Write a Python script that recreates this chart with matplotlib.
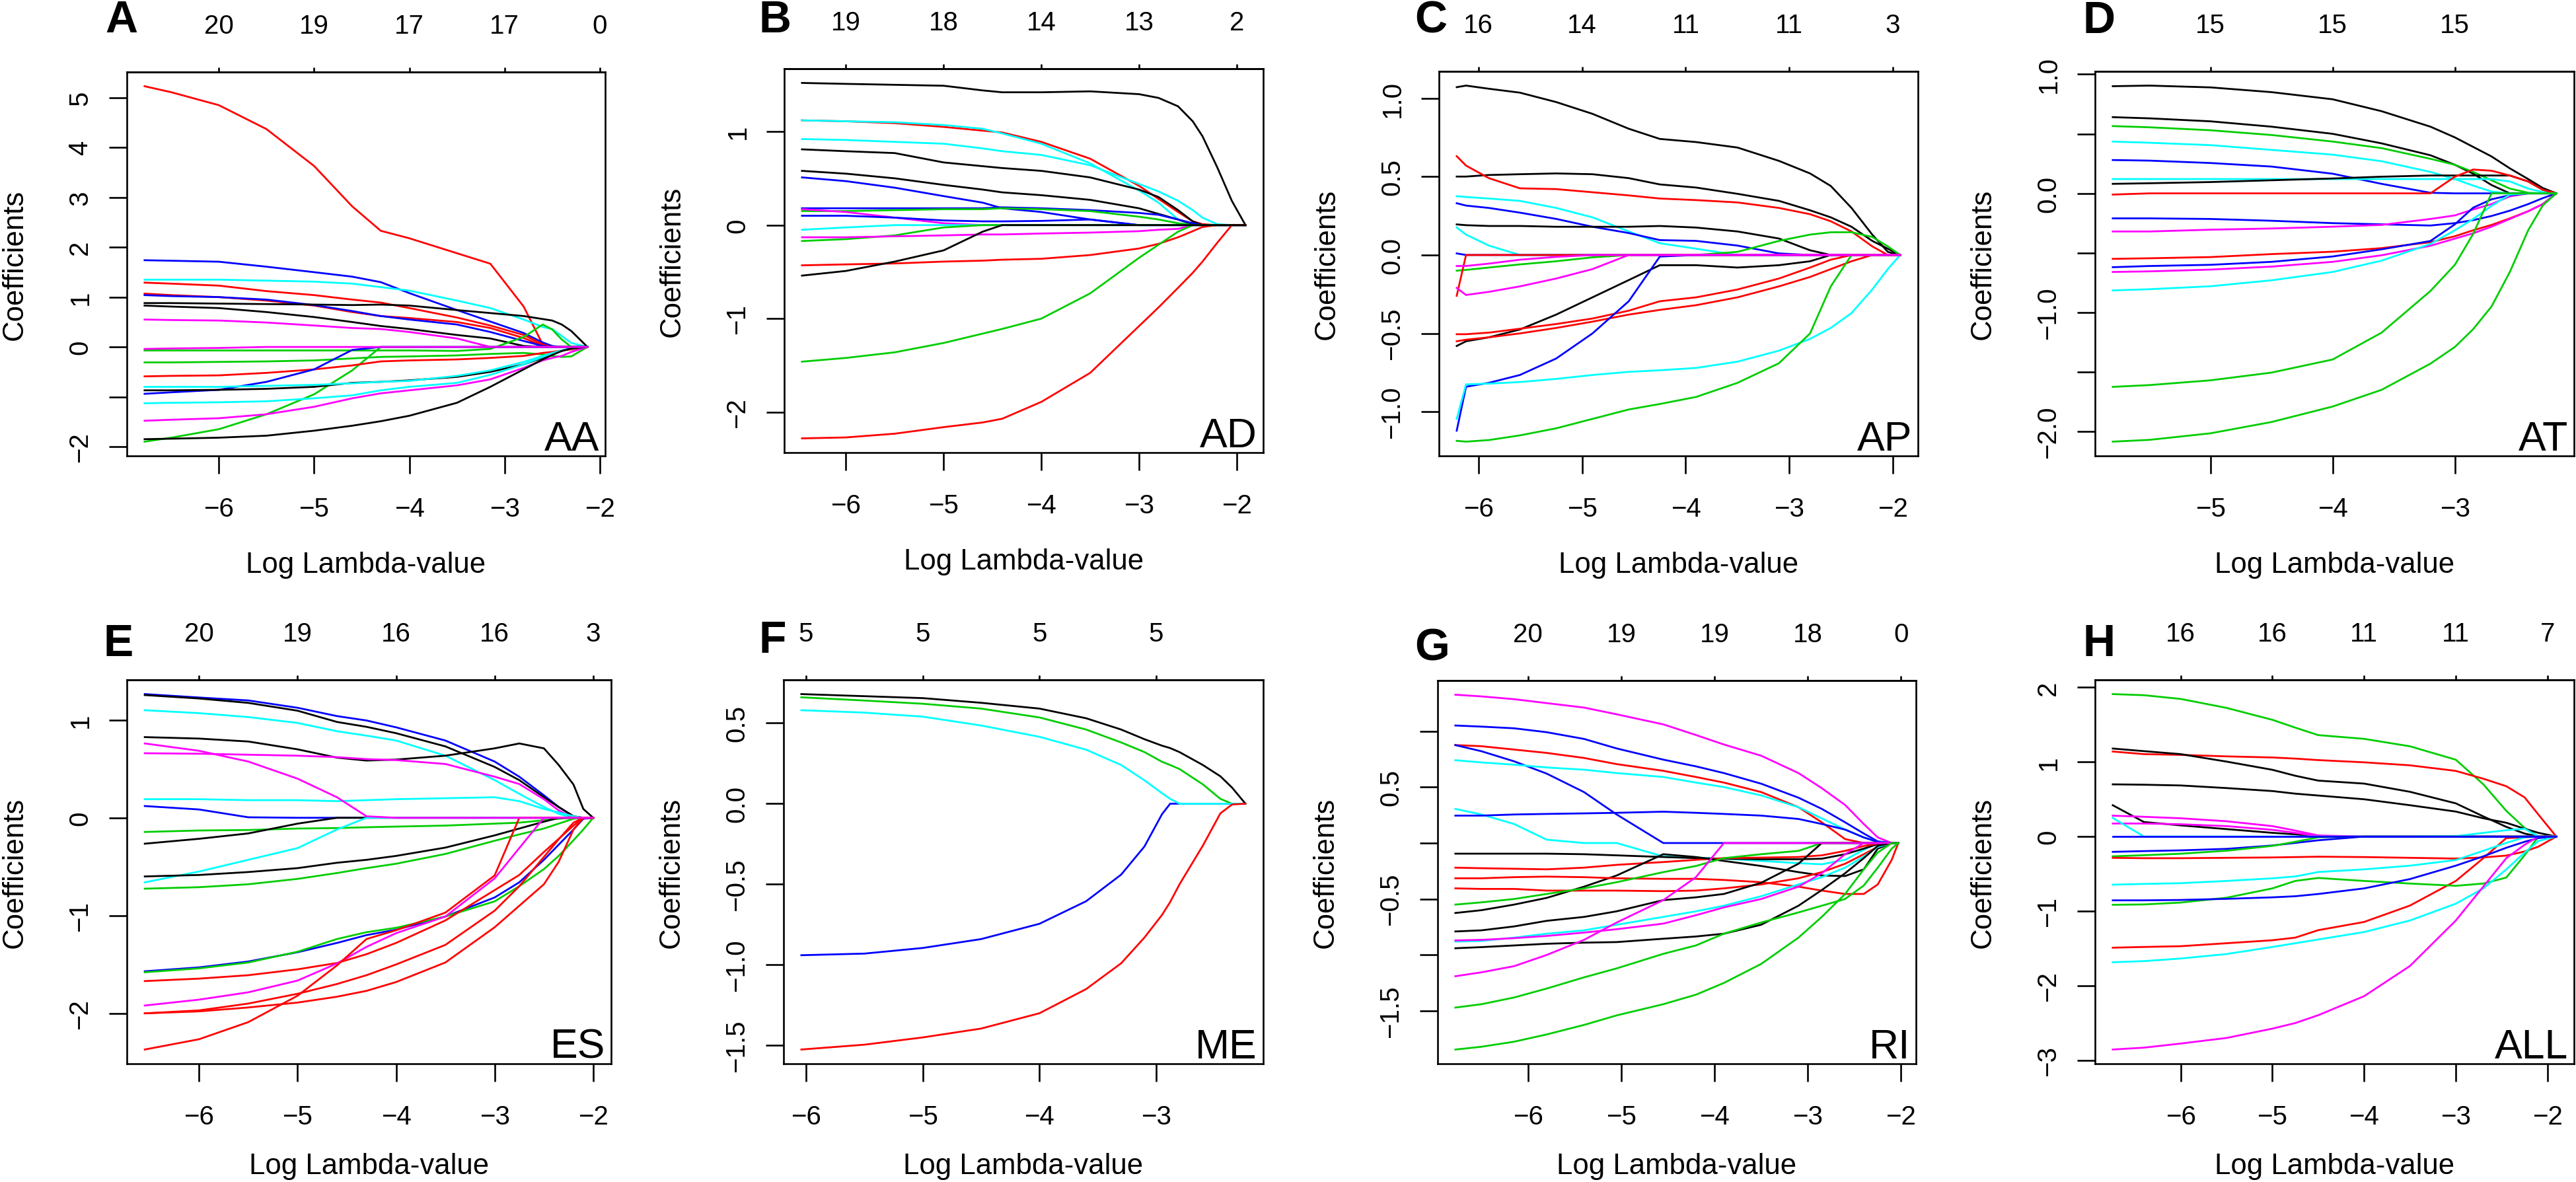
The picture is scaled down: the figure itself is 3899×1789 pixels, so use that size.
import numpy as np
import matplotlib
matplotlib.use("Agg")
import matplotlib.pyplot as plt

plt.rcParams['font.family'] = ['Liberation Sans', 'DejaVu Sans']

W, H = 3899, 1790
COL = {'k': '#000000', 'r': '#FF0000', 'g': '#00CD00',
       'b': '#0000FF', 'c': '#00FFFF', 'm': '#FF00FF'}

# ---------------- A : AA ----------------
A_x = [-6.78, -6.5, -6.0, -5.5, -5.0, -4.6, -4.3, -4.0, -3.5, -3.15, -2.8, -2.6, -2.5, -2.4, -2.3, -2.13]
A_coef = [
    [5.23, 5.11, 4.85, 4.37, 3.63, 2.82, 2.33, 2.18, 1.88, 1.67, 0.81, 0.05, 0, 0, 0, 0],
    [1.74, 1.73, 1.71, 1.61, 1.50, 1.41, 1.30, 1.08, 0.74, 0.51, 0.28, 0.09, 0.02, 0, 0, 0],
    [1.35, 1.35, 1.35, 1.33, 1.31, 1.27, 1.20, 1.13, 0.93, 0.78, 0.55, 0.40, 0.36, 0.22, 0.08, 0],
    [1.29, 1.27, 1.23, 1.12, 1.04, 0.95, 0.89, 0.78, 0.59, 0.43, 0.24, 0.05, 0, 0, 0, 0],
    [1.07, 1.04, 1.00, 0.93, 0.83, 0.70, 0.62, 0.58, 0.50, 0.38, 0.18, 0.02, 0, 0, 0, 0],
    [1.04, 1.02, 1.00, 0.95, 0.84, 0.72, 0.62, 0.55, 0.45, 0.30, 0.12, 0.02, 0, 0, 0, 0],
    [0.88, 0.88, 0.87, 0.86, 0.85, 0.84, 0.85, 0.83, 0.74, 0.68, 0.62, 0.56, 0.53, 0.45, 0.32, 0],
    [0.83, 0.81, 0.78, 0.70, 0.60, 0.50, 0.42, 0.36, 0.24, 0.17, 0.02, 0, 0, 0, 0, 0],
    [0.55, 0.54, 0.53, 0.49, 0.43, 0.38, 0.36, 0.30, 0.17, 0, 0, 0, 0, 0, 0, 0],
    [-0.07, -0.07, -0.07, -0.07, -0.07, -0.07, -0.07, -0.07, -0.08, -0.04, 0.20, 0.45, 0.35, 0.15, 0, 0],
    [-0.31, -0.31, -0.30, -0.29, -0.27, -0.23, -0.20, -0.19, -0.17, -0.14, -0.12, -0.15, -0.18, -0.20, -0.19, 0],
    [-1.90, -1.82, -1.65, -1.35, -0.95, -0.47, 0, 0, 0, 0, 0, 0, 0, 0, 0, 0],
    [-0.59, -0.58, -0.57, -0.52, -0.45, -0.37, -0.29, -0.27, -0.25, -0.22, -0.18, -0.12, -0.10, -0.07, -0.05, 0],
    [-0.94, -0.91, -0.86, -0.70, -0.45, -0.06, 0, 0, 0, 0, 0, 0, 0, 0, 0, 0],
    [-0.87, -0.87, -0.86, -0.84, -0.80, -0.72, -0.70, -0.67, -0.60, -0.50, -0.35, -0.22, -0.15, -0.08, -0.03, 0],
    [-0.80, -0.80, -0.80, -0.78, -0.76, -0.73, -0.70, -0.68, -0.58, -0.47, -0.30, -0.18, -0.12, -0.07, -0.03, 0],
    [-1.13, -1.12, -1.11, -1.09, -1.03, -0.97, -0.87, -0.80, -0.72, -0.56, -0.35, -0.20, -0.13, -0.07, -0.03, 0],
    [-1.48, -1.46, -1.43, -1.35, -1.20, -1.03, -0.93, -0.87, -0.77, -0.65, -0.42, -0.27, -0.22, -0.18, -0.10, 0],
    [-1.85, -1.84, -1.82, -1.78, -1.68, -1.58, -1.49, -1.38, -1.12, -0.80, -0.45, -0.25, -0.16, -0.08, -0.03, 0],
    [-0.04, -0.03, -0.02, 0, 0, 0, 0, 0, 0, 0, 0, 0, 0, 0, 0, 0],
]
A_col = "rbcrrbkkmgggrbkccmkm"
A_xt = [-6, -5, -4, -3, -2]
A_top = ['20', '19', '17', '17', '0']
A_yt = [-2, -1, 0, 1, 2, 3, 4, 5]
A_ylab = ['\u22122', '', '0', '1', '2', '3', '4', '5']

# ---------------- B : AD ----------------
B_x = [-6.45, -6.0, -5.5, -5.0, -4.6, -4.4, -4.0, -3.5, -3.0, -2.8, -2.6, -2.45, -2.35, -2.2, -2.05, -1.91]
B_coef = [
    [1.52, 1.51, 1.50, 1.49, 1.44, 1.42, 1.42, 1.43, 1.40, 1.36, 1.27, 1.11, 0.95, 0.62, 0.26, 0],
    [1.12, 1.11, 1.09, 1.05, 1.01, 0.99, 0.89, 0.71, 0.42, 0.28, 0.14, 0.04, 0.01, 0, 0, 0],
    [1.12, 1.11, 1.10, 1.07, 1.03, 0.98, 0.87, 0.66, 0.37, 0.24, 0.06, 0, 0, 0, 0, 0],
    [0.92, 0.91, 0.89, 0.87, 0.82, 0.79, 0.75, 0.64, 0.44, 0.36, 0.26, 0.16, 0.08, 0.01, 0, 0],
    [0.81, 0.79, 0.77, 0.67, 0.63, 0.61, 0.58, 0.51, 0.38, 0.30, 0.16, 0.04, 0, 0, 0, 0],
    [0.58, 0.55, 0.50, 0.43, 0.38, 0.35, 0.32, 0.27, 0.18, 0.12, 0.06, 0.01, 0, 0, 0, 0],
    [0.51, 0.47, 0.40, 0.31, 0.24, 0.18, 0.14, 0.06, 0, 0, 0, 0, 0, 0, 0, 0],
    [0.18, 0.18, 0.18, 0.18, 0.18, 0.19, 0.18, 0.16, 0.13, 0.11, 0.06, 0.02, 0, 0, 0, 0],
    [0.15, 0.15, 0.16, 0.17, 0.17, 0.18, 0.17, 0.15, 0.09, 0.06, 0.02, 0, 0, 0, 0, 0],
    [0.17, 0.14, 0.08, 0.02, 0, 0, 0, 0, 0, 0, 0, 0, 0, 0, 0, 0],
    [0.10, 0.10, 0.08, 0.05, 0.04, 0.04, 0.045, 0.06, 0, 0, 0, 0, 0, 0, 0, 0],
    [-0.05, -0.025, 0, 0, 0, 0, 0, 0, 0, 0, 0, 0, 0, 0, 0, 0],
    [-0.17, -0.15, -0.11, -0.025, 0, 0, 0, 0, 0, 0, 0, 0, 0, 0, 0, 0],
    [-0.13, -0.13, -0.12, -0.11, -0.10, -0.10, -0.09, -0.08, -0.065, -0.05, -0.04, 0, 0, 0, 0, 0],
    [-0.43, -0.42, -0.41, -0.39, -0.38, -0.37, -0.36, -0.32, -0.25, -0.20, -0.13, -0.065, -0.02, 0, 0, 0],
    [-1.46, -1.42, -1.36, -1.26, -1.16, -1.11, -1.00, -0.73, -0.35, -0.21, -0.07, 0, 0, 0, 0, 0],
    [-2.28, -2.27, -2.23, -2.16, -2.11, -2.07, -1.89, -1.58, -1.08, -0.88, -0.67, -0.51, -0.39, -0.19, 0, 0],
    [-0.54, -0.49, -0.39, -0.27, -0.07, 0, 0, 0, 0, 0, 0, 0, 0, 0, 0, 0],
]
B_col = "krcckkbbgmbcgmrgrk"
B_xt = [-6, -5, -4, -3, -2]
B_top = ['19', '18', '14', '13', '2']
B_yt = [-2, -1, 0, 1]
B_ylab = ['\u22122', '\u22121', '0', '1']

# ---------------- C : AP ----------------
C_x = [-6.21, -6.12, -5.9, -5.6, -5.25, -4.9, -4.55, -4.25, -3.9, -3.5, -3.1, -2.8, -2.6, -2.4, -2.2, -2.05, -1.93]
C_coef = [
    [1.07, 1.08, 1.06, 1.035, 0.975, 0.90, 0.805, 0.74, 0.72, 0.685, 0.60, 0.52, 0.44, 0.30, 0.13, 0.02, 0],
    [0.50, 0.50, 0.51, 0.515, 0.52, 0.515, 0.49, 0.45, 0.43, 0.39, 0.345, 0.285, 0.24, 0.18, 0.09, 0.04, 0],
    [0.63, 0.57, 0.49, 0.425, 0.42, 0.40, 0.38, 0.36, 0.35, 0.335, 0.30, 0.26, 0.215, 0.15, 0.055, 0, 0],
    [0.375, 0.37, 0.36, 0.345, 0.30, 0.24, 0.15, 0.075, 0.04, 0, 0, 0, 0, 0, 0, 0, 0],
    [0.33, 0.315, 0.30, 0.27, 0.23, 0.18, 0.14, 0.095, 0.09, 0.06, 0.01, 0, 0, 0, 0, 0, 0],
    [0.195, 0.19, 0.185, 0.185, 0.18, 0.18, 0.18, 0.185, 0.175, 0.15, 0.105, 0.03, 0, 0, 0, 0, 0],
    [0.175, 0.13, 0.06, 0, 0, 0, 0, 0, 0, 0, 0, 0, 0, 0, 0, 0, 0],
    [0.01, 0, 0, 0, 0, 0, 0, 0, 0, 0, 0, 0, 0, 0, 0, 0, 0],
    [-0.10, -0.095, -0.08, -0.06, -0.04, -0.015, 0, 0, 0, 0.02, 0.09, 0.13, 0.145, 0.145, 0.115, 0.055, 0],
    [-0.58, -0.55, -0.525, -0.475, -0.38, -0.27, -0.16, -0.065, -0.065, -0.08, -0.065, -0.04, 0, 0, 0, 0, 0],
    [-0.505, -0.505, -0.495, -0.47, -0.44, -0.405, -0.355, -0.295, -0.27, -0.22, -0.15, -0.08, -0.03, 0, 0, 0, 0],
    [-0.55, -0.54, -0.525, -0.50, -0.465, -0.425, -0.38, -0.35, -0.32, -0.27, -0.20, -0.14, -0.09, -0.04, 0, 0, 0],
    [-1.12, -0.84, -0.815, -0.765, -0.66, -0.50, -0.295, -0.01, 0, 0, 0, 0, 0, 0, 0, 0, 0],
    [-1.045, -0.825, -0.82, -0.81, -0.79, -0.765, -0.745, -0.735, -0.72, -0.68, -0.61, -0.535, -0.465, -0.37, -0.22, -0.09, 0],
    [-1.185, -1.19, -1.18, -1.15, -1.105, -1.045, -0.985, -0.95, -0.905, -0.815, -0.69, -0.50, -0.20, 0, 0, 0, 0],
    [-0.26, 0, 0, 0, 0, 0, 0, 0, 0, 0, 0, 0, 0, 0, 0, 0, 0],
    [-0.07, -0.07, -0.055, -0.03, -0.012, 0, 0, 0, 0, 0, 0, 0, 0, 0, 0, 0, 0],
    [-0.21, -0.255, -0.235, -0.20, -0.15, -0.09, 0, 0, 0, 0, 0, 0, 0, 0, 0, 0, 0],
]
C_col = "kkrcbkcbgkrrbcgrmm"
C_xt = [-6, -5, -4, -3, -2]
C_top = ['16', '14', '11', '11', '3']
C_yt = [-1.0, -0.5, 0.0, 0.5, 1.0]
C_ylab = ['\u22121.0', '\u22120.5', '0.0', '0.5', '1.0']

# ---------------- D : AT ----------------
D_x = [-5.8, -5.5, -5.0, -4.5, -4.0, -3.6, -3.2, -3.0, -2.85, -2.7, -2.55, -2.4, -2.28, -2.17]
D_coef = [
    [0.90, 0.905, 0.89, 0.85, 0.79, 0.69, 0.56, 0.47, 0.39, 0.31, 0.21, 0.12, 0.045, 0],
    [0.64, 0.63, 0.605, 0.56, 0.50, 0.42, 0.32, 0.24, 0.165, 0.07, 0, 0, 0, 0],
    [0.565, 0.555, 0.53, 0.49, 0.435, 0.38, 0.29, 0.24, 0.18, 0.11, 0.04, 0.005, 0, 0],
    [0.435, 0.425, 0.405, 0.365, 0.325, 0.27, 0.18, 0.12, 0.065, 0.015, 0, 0, 0, 0],
    [0.28, 0.275, 0.255, 0.225, 0.165, 0.08, 0.005, 0, 0, 0, 0, 0, 0, 0],
    [0.12, 0.12, 0.12, 0.12, 0.12, 0.12, 0.12, 0.12, 0.12, 0.12, 0.10, 0.04, 0.01, 0],
    [0.08, 0.085, 0.095, 0.11, 0.125, 0.14, 0.15, 0.15, 0.15, 0.15, 0.15, 0.10, 0.03, 0],
    [-0.01, 0, 0, 0, 0, 0, 0, 0.14, 0.20, 0.19, 0.15, 0.10, 0.03, 0],
    [-0.21, -0.21, -0.215, -0.23, -0.25, -0.26, -0.27, -0.25, -0.225, -0.19, -0.145, -0.09, -0.04, 0],
    [-0.32, -0.32, -0.305, -0.295, -0.28, -0.265, -0.215, -0.185, -0.135, -0.09, -0.025, 0, 0, 0],
    [-0.55, -0.545, -0.535, -0.51, -0.49, -0.46, -0.41, -0.36, -0.31, -0.265, -0.21, -0.15, -0.09, 0],
    [-0.62, -0.61, -0.60, -0.575, -0.53, -0.47, -0.40, -0.26, -0.12, -0.05, -0.015, 0, 0, 0],
    [-0.66, -0.655, -0.64, -0.615, -0.575, -0.52, -0.44, -0.38, -0.335, -0.28, -0.215, -0.15, -0.09, 0],
    [-0.815, -0.805, -0.78, -0.73, -0.66, -0.565, -0.425, -0.31, -0.215, -0.105, -0.01, 0, 0, 0],
    [-1.625, -1.61, -1.57, -1.505, -1.395, -1.17, -0.82, -0.60, -0.34, 0, 0, 0, 0, 0],
    [-2.085, -2.07, -2.015, -1.92, -1.79, -1.65, -1.43, -1.29, -1.14, -0.95, -0.66, -0.31, -0.10, 0],
]
D_col = "kkgcbckrbmrbmcgg"
D_xt = [-5, -4, -3]
D_top = ['15', '15', '15']
D_yt = [-2.0, -1.5, -1.0, -0.5, 0.0, 0.5, 1.0]
D_ylab = ['\u22122.0', '', '\u22121.0', '', '0.0', '', '1.0']

# ---------------- E : ES ----------------
E_x = [-6.55, -6.0, -5.5, -5.0, -4.6, -4.3, -4.0, -3.5, -3.0, -2.75, -2.5, -2.35, -2.2, -2.1, -2.0]
E_coef = [
    [1.265, 1.23, 1.20, 1.125, 1.04, 0.995, 0.925, 0.79, 0.575, 0.42, 0.23, 0.11, 0.015, 0, 0],
    [1.255, 1.22, 1.175, 1.095, 0.98, 0.93, 0.865, 0.73, 0.52, 0.385, 0.21, 0.11, 0.015, 0, 0],
    [1.10, 1.07, 1.03, 0.97, 0.885, 0.84, 0.79, 0.635, 0.385, 0.245, 0.11, 0.04, 0, 0, 0],
    [0.825, 0.81, 0.78, 0.70, 0.615, 0.585, 0.595, 0.635, 0.71, 0.76, 0.71, 0.54, 0.34, 0.09, 0],
    [0.66, 0.655, 0.645, 0.635, 0.62, 0.60, 0.59, 0.55, 0.42, 0.345, 0.19, 0.075, 0, 0, 0],
    [0.19, 0.19, 0.18, 0.18, 0.17, 0.18, 0.19, 0.20, 0.21, 0.17, 0.09, 0.055, 0.015, 0, 0],
    [0.12, 0.085, 0.005, 0, 0, 0, 0, 0, 0, 0, 0, 0, 0, 0, 0],
    [-0.145, -0.13, -0.125, -0.11, -0.105, -0.097, -0.09, -0.08, -0.06, -0.05, -0.025, -0.01, 0, 0, 0],
    [-0.265, -0.215, -0.16, -0.06, 0, 0, 0, 0, 0, 0, 0, 0, 0, 0, 0],
    [-0.66, -0.55, -0.43, -0.31, -0.12, 0, 0, 0, 0, 0, 0, 0, 0, 0, 0],
    [-0.60, -0.585, -0.555, -0.515, -0.46, -0.43, -0.39, -0.305, -0.18, -0.11, -0.04, 0, 0, 0, 0],
    [-0.725, -0.71, -0.68, -0.625, -0.565, -0.515, -0.47, -0.37, -0.235, -0.17, -0.11, -0.06, -0.01, 0, 0],
    [-1.57, -1.53, -1.47, -1.375, -1.28, -1.20, -1.145, -1.01, -0.815, -0.66, -0.43, -0.275, -0.12, -0.01, 0],
    [-1.58, -1.54, -1.48, -1.37, -1.24, -1.17, -1.125, -1.01, -0.855, -0.70, -0.525, -0.39, -0.23, -0.12, 0],
    [-1.67, -1.645, -1.61, -1.55, -1.485, -1.395, -1.28, -1.05, -0.74, -0.585, -0.35, -0.215, -0.08, 0, 0],
    [-1.92, -1.86, -1.785, -1.665, -1.49, -1.32, -1.18, -1.01, -0.62, -0.31, 0, 0, 0, 0, 0],
    [-2.0, -1.97, -1.90, -1.80, -1.70, -1.61, -1.50, -1.30, -0.95, -0.70, -0.40, -0.22, -0.05, 0, 0],
    [-2.0, -1.98, -1.94, -1.89, -1.83, -1.77, -1.68, -1.48, -1.12, -0.90, -0.68, -0.45, -0.12, 0, 0],
    [-2.37, -2.265, -2.09, -1.82, -1.51, -1.24, -1.15, -0.97, -0.59, 0, 0, 0, 0, 0, 0],
    [0.76, 0.685, 0.575, 0.40, 0.21, 0.015, 0, 0, 0, 0, 0, 0, 0, 0, 0],
]
E_col = "bkckmcbgkckgbgrmrrrm"
E_xt = [-6, -5, -4, -3, -2]
E_top = ['20', '19', '16', '16', '3']
E_yt = [-2, -1, 0, 1]
E_ylab = ['\u22122', '\u22121', '0', '1']

# ---------------- F : ME ----------------
F_x = [-6.04, -5.5, -5.0, -4.5, -4.0, -3.6, -3.3, -3.1, -2.95, -2.88, -2.8, -2.6, -2.45, -2.35, -2.235]
F_coef = [
    [0.68, 0.667, 0.655, 0.626, 0.59, 0.53, 0.46, 0.40, 0.36, 0.345, 0.32, 0.24, 0.17, 0.10, 0],
    [0.66, 0.64, 0.62, 0.59, 0.535, 0.46, 0.38, 0.32, 0.26, 0.24, 0.215, 0.12, 0.03, 0, 0],
    [-0.94, -0.93, -0.895, -0.84, -0.745, -0.605, -0.44, -0.265, -0.065, 0, 0, 0, 0, 0, 0],
    [0.58, 0.565, 0.54, 0.485, 0.415, 0.335, 0.24, 0.145, 0.065, 0.03, 0, 0, 0, 0, 0],
    [-1.525, -1.495, -1.45, -1.395, -1.30, -1.15, -0.99, -0.83, -0.69, -0.61, -0.50, -0.26, -0.06, -0.005, 0],
]
F_col = "kgbcr"
F_xt = [-6, -5, -4, -3]
F_top = ['5', '5', '5', '5']
F_yt = [-1.5, -1.0, -0.5, 0.0, 0.5]
F_ylab = ['\u22121.5', '\u22121.0', '\u22120.5', '0.0', '0.5']

# ---------------- G : RI ----------------
G_x = [-6.78, -6.5, -6.15, -5.8, -5.4, -5.05, -4.55, -4.2, -3.9, -3.5, -3.1, -2.85, -2.6, -2.4, -2.25, -2.1, -2.03]
G_coef = [
    [1.325, 1.31, 1.285, 1.25, 1.21, 1.15, 1.06, 0.965, 0.88, 0.78, 0.625, 0.49, 0.34, 0.17, 0.05, 0, 0],
    [1.05, 1.04, 1.025, 0.99, 0.93, 0.845, 0.745, 0.685, 0.625, 0.53, 0.405, 0.305, 0.185, 0.085, 0.015, 0, 0],
    [0.875, 0.865, 0.835, 0.805, 0.76, 0.705, 0.645, 0.59, 0.54, 0.455, 0.32, 0.185, 0.035, 0, 0, 0, 0],
    [0.875, 0.82, 0.73, 0.62, 0.455, 0.255, 0, 0, 0, 0, 0, 0, 0, 0, 0, 0, 0],
    [0.74, 0.72, 0.70, 0.675, 0.655, 0.625, 0.59, 0.54, 0.50, 0.425, 0.32, 0.22, 0.12, 0.05, 0.01, 0, 0],
    [0.305, 0.255, 0.17, 0.03, 0, 0, -0.12, -0.13, -0.14, -0.16, -0.18, -0.19, -0.15, -0.06, 0, 0, 0],
    [0.245, 0.245, 0.255, 0.26, 0.265, 0.27, 0.28, 0.27, 0.26, 0.245, 0.215, 0.17, 0.12, 0.05, 0.01, 0, 0],
    [-0.095, -0.095, -0.095, -0.095, -0.10, -0.11, -0.125, -0.135, -0.14, -0.145, -0.145, -0.14, -0.10, -0.05, -0.01, 0, 0],
    [-0.22, -0.225, -0.23, -0.235, -0.22, -0.195, -0.17, -0.15, -0.135, -0.13, -0.125, -0.11, -0.07, -0.027, -0.005, 0, 0],
    [-0.625, -0.60, -0.55, -0.49, -0.39, -0.29, -0.10, -0.125, -0.16, -0.205, -0.26, -0.29, -0.295, -0.235, -0.05, 0, 0],
    [-0.315, -0.315, -0.305, -0.30, -0.305, -0.315, -0.32, -0.32, -0.33, -0.35, -0.39, -0.425, -0.455, -0.455, -0.37, -0.15, 0],
    [-0.405, -0.41, -0.41, -0.425, -0.425, -0.425, -0.43, -0.425, -0.405, -0.37, -0.315, -0.26, -0.185, -0.10, -0.035, 0, 0],
    [-0.55, -0.53, -0.50, -0.455, -0.405, -0.35, -0.26, -0.205, -0.135, -0.10, -0.07, 0, 0, 0, 0, 0, 0],
    [-0.79, -0.78, -0.745, -0.695, -0.66, -0.61, -0.51, -0.485, -0.455, -0.355, -0.185, 0, 0, 0, 0, 0, 0],
    [-0.88, -0.875, -0.845, -0.81, -0.78, -0.73, -0.66, -0.61, -0.56, -0.475, -0.37, -0.305, -0.22, -0.12, -0.035, 0, 0],
    [-0.87, -0.865, -0.85, -0.83, -0.80, -0.77, -0.72, -0.645, -0.575, -0.50, -0.39, -0.27, -0.10, 0, 0, 0, 0],
    [-0.94, -0.93, -0.915, -0.90, -0.89, -0.885, -0.855, -0.835, -0.81, -0.73, -0.56, -0.42, -0.27, -0.135, -0.025, 0, 0],
    [-1.19, -1.155, -1.10, -1.0, -0.865, -0.71, -0.51, -0.305, 0, 0, 0, 0, 0, 0, 0, 0, 0],
    [-1.47, -1.44, -1.38, -1.30, -1.20, -1.12, -0.99, -0.915, -0.81, -0.71, -0.62, -0.56, -0.50, -0.38, -0.22, -0.05, 0],
    [-1.845, -1.82, -1.775, -1.71, -1.625, -1.54, -1.44, -1.355, -1.25, -1.08, -0.845, -0.66, -0.455, -0.235, -0.085, 0, 0],
]
G_col = "mbrbccbkrkrrgkcmkmgg"
G_xt = [-6, -5, -4, -3, -2]
G_top = ['20', '19', '19', '18', '0']
G_yt = [-1.5, -1.0, -0.5, 0.0, 0.5, 1.0]
G_ylab = ['\u22121.5', '', '\u22120.5', '', '0.5', '']

# ---------------- H : ALL ----------------
H_x = [-6.74, -6.4, -6.0, -5.5, -5.0, -4.75, -4.5, -4.0, -3.5, -3.0, -2.7, -2.45, -2.25, -2.1, -1.905]
H_coef = [
    [1.91, 1.895, 1.845, 1.725, 1.565, 1.46, 1.36, 1.31, 1.21, 1.03, 0.70, 0.345, 0.115, 0, 0],
    [1.14, 1.105, 1.095, 1.075, 1.06, 1.045, 1.025, 0.995, 0.955, 0.88, 0.775, 0.675, 0.525, 0.295, 0],
    [1.18, 1.145, 1.105, 1.005, 0.895, 0.815, 0.75, 0.71, 0.60, 0.445, 0.27, 0.13, 0.04, 0, 0],
    [0.70, 0.695, 0.685, 0.65, 0.61, 0.575, 0.55, 0.50, 0.42, 0.335, 0.245, 0.185, 0.105, 0.05, 0],
    [0.42, 0.195, 0.15, 0.10, 0.05, 0.03, 0, 0, 0, 0, 0, 0, 0, 0, 0],
    [0.28, 0.265, 0.245, 0.205, 0.14, 0.08, 0.015, 0, 0, 0, 0, 0, 0, 0, 0],
    [0.175, 0.175, 0.165, 0.14, 0.09, 0.05, 0.005, 0, 0, 0, 0, 0, 0, 0, 0],
    [0.25, 0, 0, 0, 0, 0, 0, 0, 0, 0.005, 0.05, 0.085, 0.105, 0, 0],
    [-0.205, -0.195, -0.185, -0.165, -0.12, -0.085, -0.05, 0, 0, 0, 0, 0, 0, 0, 0],
    [-0.265, -0.25, -0.23, -0.19, -0.125, -0.07, -0.01, 0, 0, 0, 0, 0, 0, 0, 0],
    [-0.285, -0.29, -0.29, -0.285, -0.28, -0.275, -0.27, -0.275, -0.285, -0.295, -0.28, -0.255, -0.2, -0.135, 0],
    [-1.49, -1.48, -1.47, -1.43, -1.39, -1.355, -1.255, -1.145, -0.925, -0.595, -0.29, -0.02, -0.01, 0, 0],
    [-0.645, -0.635, -0.625, -0.595, -0.56, -0.535, -0.475, -0.44, -0.39, -0.315, -0.19, -0.085, -0.01, 0, 0],
    [-0.915, -0.91, -0.885, -0.82, -0.695, -0.595, -0.555, -0.595, -0.63, -0.66, -0.63, -0.55, -0.25, 0, 0],
    [-0.855, -0.855, -0.85, -0.835, -0.815, -0.80, -0.77, -0.695, -0.57, -0.39, -0.265, -0.15, -0.07, -0.02, 0],
    [-1.685, -1.67, -1.635, -1.575, -1.48, -1.43, -1.38, -1.28, -1.125, -0.90, -0.695, -0.44, -0.215, -0.06, 0],
    [-2.855, -2.83, -2.775, -2.70, -2.575, -2.50, -2.395, -2.14, -1.735, -1.125, -0.67, -0.29, -0.11, 0, 0],
    [0, 0, 0, 0, 0, 0, 0, 0, 0, 0, 0, 0, 0, 0, 0],
]
H_col = "grkkkmmcbgrrcgbcmb"
H_xt = [-6, -5, -4, -3, -2]
H_top = ['16', '16', '11', '11', '7']
H_yt = [-3, -2, -1, 0, 1, 2]
H_ylab = ['\u22123', '\u22122', '\u22121', '0', '1', '2']

# layout in pixels: box (left, top, right, bottom), panel letter (x, baseline)
panels = [
    ('A', 'AA', A_x, A_coef, A_col, A_xt, A_top, A_yt, A_ylab, (192, 110, 916, 691), (184, 49), 0),
    ('B', 'AD', B_x, B_coef, B_col, B_xt, B_top, B_yt, B_ylab, (1187, 105, 1912, 686), (1173, 49), 0),
    ('C', 'AP', C_x, C_coef, C_col, C_xt, C_top, C_yt, C_ylab, (2178, 109, 2903, 691), (2166, 50), 0),
    ('D', 'AT', D_x, D_coef, D_col, D_xt, D_top, D_yt, D_ylab, (3171, 109, 3896, 691), (3177, 50), 0),
    ('E', 'ES', E_x, E_coef, E_col, E_xt, E_top, E_yt, E_ylab, (192, 1030, 925, 1611), (179, 993), 1),
    ('F', 'ME', F_x, F_coef, F_col, F_xt, F_top, F_yt, F_ylab, (1186, 1030, 1912, 1611), (1169, 988), 1),
    ('G', 'RI', G_x, G_coef, G_col, G_xt, G_top, G_yt, G_ylab, (2176, 1031, 2900, 1611), (2168, 999), 1),
    ('H', 'ALL', H_x, H_coef, H_col, H_xt, H_top, H_yt, H_ylab, (3171, 1030, 3896, 1611), (3177, 993), 1),
]

fig = plt.figure(figsize=(W / 100, H / 100), dpi=100)

TICK_FS = 29
LAB_FS = 31.5
LW = 1.9

for letter, name, x, coefs, cols, xt, top, yt, ylab, box, lpos, row in panels:
    l, t, r, b = box
    ax = fig.add_axes([l / W, 1 - b / H, (r - l) / W, (b - t) / H])
    for y, c in zip(coefs, cols):
        ax.plot(x, y, color=COL[c], lw=2.0, solid_joinstyle='round')

    # R style 4% padding
    allv = np.array(coefs, dtype=float)
    x0, x1 = min(x), max(x)
    y0, y1 = allv.min(), allv.max()
    ax.set_xlim(x0 - 0.04 * (x1 - x0), x1 + 0.04 * (x1 - x0))
    ax.set_ylim(y0 - 0.04 * (y1 - y0), y1 + 0.04 * (y1 - y0))

    ax.set_xticks(xt, [str(v).replace('-', '\u2212') for v in xt])
    ax.set_yticks(yt, ylab, rotation=90, va='center')
    ax.tick_params(direction='out', length=19.4, width=LW, labelsize=TICK_FS)
    ax.tick_params(axis='x', pad=24.5)
    ax.tick_params(axis='y', pad=17.7)
    for sp in ax.spines.values():
        sp.set_linewidth(LW)

    sec = ax.secondary_xaxis('top')
    sec.set_xticks(xt, top)
    sec.tick_params(direction='out', length=5, width=LW, labelsize=TICK_FS, pad=31.4)
    sec.spines['top'].set_linewidth(LW)

    xl_off = -126.7 if row == 0 else -119.5
    ax.annotate('Log Lambda-value', xy=(0.5, 0), xycoords='axes fraction',
                xytext=(0, xl_off), textcoords='offset points',
                ha='center', va='baseline', fontsize=LAB_FS)
    ax.annotate('Coefficients', xy=(0, 0.5), xycoords='axes fraction',
                xytext=(-122.4, 0), textcoords='offset points', rotation=90,
                ha='center', va='center', fontsize=LAB_FS)
    ax.annotate(name, xy=(1, 0), xycoords='axes fraction',
                xytext=(-6.5, 6.5), textcoords='offset points',
                ha='right', va='baseline', fontsize=45)
    fig.text(lpos[0] / W, 1 - lpos[1] / H, letter, ha='center', va='baseline',
             fontsize=49, fontweight='bold')

fig.savefig('out.png', dpi=100)
